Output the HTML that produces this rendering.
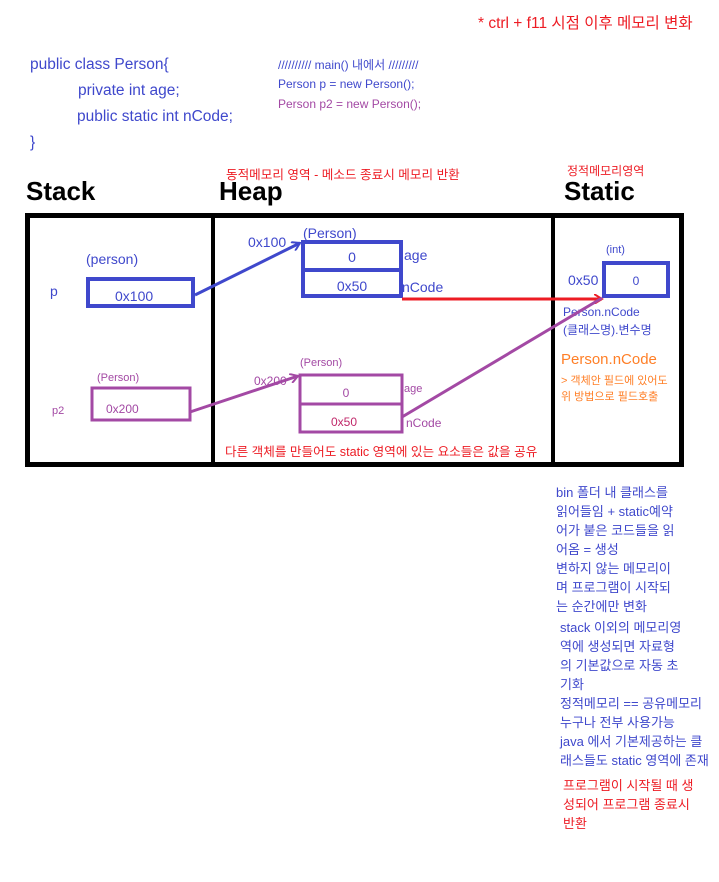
<!DOCTYPE html>
<html><head><meta charset="utf-8"><style>
body{margin:0;background:#fff}
svg text{font-family:"Liberation Sans","Noto Sans CJK KR",sans-serif}
</style></head><body>
<svg width="719" height="877" xmlns="http://www.w3.org/2000/svg">
<defs>
<marker id="ab" markerWidth="10" markerHeight="10" refX="8" refY="5" orient="auto" markerUnits="userSpaceOnUse"><path d="M0,0 L8,5 L0,10" fill="none" stroke="#3f48cc" stroke-width="2"/></marker>
<marker id="ar" markerWidth="10" markerHeight="10" refX="8" refY="5" orient="auto" markerUnits="userSpaceOnUse"><path d="M0,0 L8,5 L0,10" fill="none" stroke="#ed1c24" stroke-width="2"/></marker>
<marker id="ap" markerWidth="10" markerHeight="10" refX="8" refY="5" orient="auto" markerUnits="userSpaceOnUse"><path d="M0,0 L8,5 L0,10" fill="none" stroke="#a349a4" stroke-width="2"/></marker>
</defs>
<text x="478" y="28" font-size="15.5" fill="#ed1c24">* ctrl + f11 시점 이후 메모리 변화</text>
<g fill="#3f48cc" font-size="15.5">
<text x="30" y="69">public class Person{</text>
<text x="78" y="95">private int age;</text>
<text x="77" y="121">public  static int nCode;</text>
<text x="30" y="147">}</text>
</g>
<text x="278" y="69" font-size="12" fill="#3f48cc">////////// main() 내에서 /////////</text>
<text x="278" y="88" font-size="12" fill="#3f48cc">Person p = new Person();</text>
<text x="278" y="108" font-size="12" fill="#a349a4">Person p2 = new Person();</text>
<text x="226" y="179" font-size="12.6" fill="#ed1c24">동적메모리 영역 - 메소드 종료시 메모리 반환</text>
<text x="567" y="175" font-size="12" fill="#ed1c24">정적메모리영역</text>
<g font-size="26" font-weight="bold" fill="#000">
<text x="26" y="200">Stack</text><text x="219" y="200">Heap</text><text x="564" y="200">Static</text>
</g>
<rect x="27.5" y="215.5" width="654" height="249" fill="none" stroke="#000" stroke-width="5"/>
<line x1="213" y1="215" x2="213" y2="465" stroke="#000" stroke-width="4"/>
<line x1="553" y1="215" x2="553" y2="465" stroke="#000" stroke-width="4"/>
<text x="86" y="264" font-size="14" fill="#3f48cc">(person)</text>
<text x="50" y="296" font-size="14" fill="#3f48cc">p</text>
<rect x="88" y="279" width="105" height="27" fill="none" stroke="#3f48cc" stroke-width="4"/>
<text x="115" y="301" font-size="14" fill="#3f48cc">0x100</text>
<line x1="195" y1="295" x2="300" y2="243" stroke="#3f48cc" stroke-width="3" marker-end="url(#ab)"/>
<text x="248" y="247" font-size="14" fill="#3f48cc">0x100</text>
<text x="303" y="238" font-size="14" fill="#3f48cc">(Person)</text>
<rect x="303" y="242" width="98" height="54" fill="none" stroke="#3f48cc" stroke-width="4"/>
<line x1="303" y1="270" x2="401" y2="270" stroke="#3f48cc" stroke-width="4"/>
<text x="352" y="262" font-size="14" fill="#3f48cc" text-anchor="middle">0</text>
<text x="352" y="291" font-size="14" fill="#3f48cc" text-anchor="middle">0x50</text>
<text x="404" y="260" font-size="14" fill="#3f48cc">age</text>
<text x="402" y="292" font-size="14" fill="#3f48cc">nCode</text>
<line x1="402" y1="299" x2="602" y2="299" stroke="#ed1c24" stroke-width="3" marker-end="url(#ar)"/>
<text x="606" y="253" font-size="11" fill="#3f48cc">(int)</text>
<rect x="604" y="263" width="64" height="33" fill="none" stroke="#3f48cc" stroke-width="4"/>
<text x="636" y="285" font-size="12" fill="#3f48cc" text-anchor="middle">0</text>
<text x="568" y="285" font-size="14" fill="#3f48cc">0x50</text>
<text x="563" y="316" font-size="12" fill="#3f48cc">Person.nCode</text>
<text x="563" y="334" font-size="12" fill="#3f48cc">(클래스명).변수명</text>
<text x="561" y="364" font-size="15" fill="#ff7f27">Person.nCode</text>
<text x="561" y="384" font-size="11" fill="#ff7f27">&gt; 객체안 필드에 있어도</text>
<text x="561" y="400" font-size="11" fill="#ff7f27">위 방법으로 필드호출</text>
<text x="97" y="381" font-size="11" fill="#a349a4">(Person)</text>
<text x="52" y="414" font-size="11" fill="#a349a4">p2</text>
<rect x="92" y="388" width="98" height="32" fill="none" stroke="#a349a4" stroke-width="3"/>
<text x="106" y="413" font-size="12" fill="#a349a4">0x200</text>
<line x1="190" y1="412" x2="298" y2="376" stroke="#a349a4" stroke-width="3" marker-end="url(#ap)"/>
<text x="254" y="385" font-size="12" fill="#a349a4">0x200</text>
<text x="300" y="366" font-size="11" fill="#a349a4">(Person)</text>
<rect x="300" y="375" width="102" height="57" fill="none" stroke="#a349a4" stroke-width="3"/>
<line x1="300" y1="404" x2="402" y2="404" stroke="#a349a4" stroke-width="3"/>
<text x="346" y="397" font-size="12" fill="#a349a4" text-anchor="middle">0</text>
<text x="344" y="426" font-size="12" fill="#c0286a" text-anchor="middle">0x50</text>
<text x="404" y="392" font-size="11" fill="#a349a4">age</text>
<text x="406" y="427" font-size="12" fill="#a349a4">nCode</text>
<line x1="402" y1="417" x2="602" y2="298" stroke="#a349a4" stroke-width="3"/>
<text x="225" y="456" font-size="12.6" fill="#ed1c24">다른 객체를 만들어도 static 영역에 있는 요소들은 값을 공유</text>
<g font-size="13" fill="#3f48cc">
<text x="556" y="497">bin 폴더 내 클래스를</text>
<text x="556" y="516">읽어들임 + static예약</text>
<text x="556" y="535">어가 붙은 코드들을 읽</text>
<text x="556" y="554">어옴 = 생성</text>
<text x="556" y="573">변하지 않는 메모리이</text>
<text x="556" y="592">며 프로그램이 시작되</text>
<text x="556" y="611">는 순간에만 변화</text>
<text x="560" y="632">stack 이외의 메모리영</text>
<text x="560" y="651">역에 생성되면 자료형</text>
<text x="560" y="670">의 기본값으로 자동 초</text>
<text x="560" y="689">기화</text>
<text x="560" y="708">정적메모리 == 공유메모리</text>
<text x="560" y="727">누구나 전부 사용가능</text>
<text x="560" y="746">java 에서 기본제공하는 클</text>
<text x="560" y="765">래스들도 static 영역에 존재</text>
</g>
<g font-size="13" fill="#ed1c24">
<text x="563" y="790">프로그램이 시작될 때 생</text>
<text x="563" y="809">성되어 프로그램 종료시</text>
<text x="563" y="828">반환</text>
</g>
</svg>
</body></html>
